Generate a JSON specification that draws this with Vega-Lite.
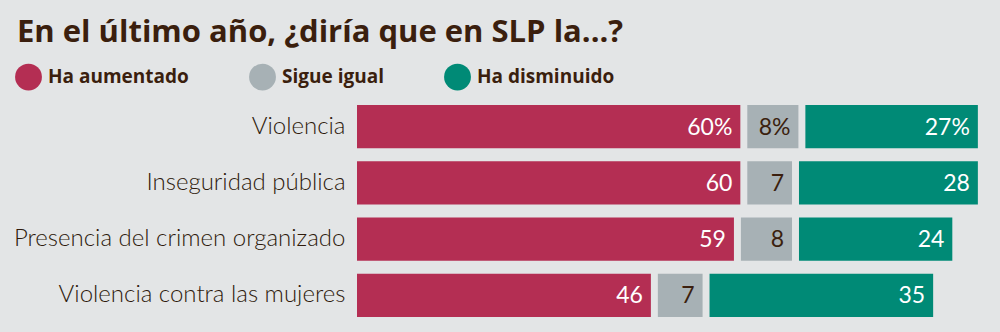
{
  "$schema": "https://vega.github.io/schema/vega-lite/v6.json",
  "width": 621,
  "height": 225,
  "autosize": {"type": "none"},
  "padding": {"left": 357, "top": 98.5, "right": 22, "bottom": 8.5},
  "background": "#e3e5e6",
  "title": {
    "text": "En el último año, ¿diría que en SLP la...?",
    "anchor": "start",
    "frame": "group",
    "dx": -340,
    "offset": 15,
    "font": "Open Sans",
    "fontSize": 31,
    "fontWeight": "bold",
    "color": "#3b1f0e"
  },
  "config": {
    "view": {"stroke": null},
    "font": "Lato"
  },
  "data": {
    "values": [
      {"cat": "Violencia", "resp": "Ha aumentado", "value": 60, "label": "60%"},
      {"cat": "Violencia", "resp": "Sigue igual", "value": 8, "label": "8%"},
      {"cat": "Violencia", "resp": "Ha disminuido", "value": 27, "label": "27%"},
      {"cat": "Inseguridad pública", "resp": "Ha aumentado", "value": 60, "label": "60"},
      {"cat": "Inseguridad pública", "resp": "Sigue igual", "value": 7, "label": "7"},
      {"cat": "Inseguridad pública", "resp": "Ha disminuido", "value": 28, "label": "28"},
      {"cat": "Presencia del crimen organizado", "resp": "Ha aumentado", "value": 59, "label": "59"},
      {"cat": "Presencia del crimen organizado", "resp": "Sigue igual", "value": 8, "label": "8"},
      {"cat": "Presencia del crimen organizado", "resp": "Ha disminuido", "value": 24, "label": "24"},
      {"cat": "Violencia contra las mujeres", "resp": "Ha aumentado", "value": 46, "label": "46"},
      {"cat": "Violencia contra las mujeres", "resp": "Sigue igual", "value": 7, "label": "7"},
      {"cat": "Violencia contra las mujeres", "resp": "Ha disminuido", "value": 35, "label": "35"}
    ]
  },
  "transform": [
    {"calculate": "indexof(['Ha aumentado','Sigue igual','Ha disminuido'], datum.resp)", "as": "ord"},
    {"stack": "value", "groupby": ["cat"], "sort": [{"field": "ord", "order": "ascending"}], "as": ["s0", "s1"]},
    {"calculate": "datum.s0 + datum.ord * 1.09", "as": "x0"},
    {"calculate": "datum.s1 + datum.ord * 1.09", "as": "x1"}
  ],
  "encoding": {
    "y": {
      "field": "cat",
      "type": "nominal",
      "sort": ["Violencia", "Inseguridad pública", "Presencia del crimen organizado", "Violencia contra las mujeres"],
      "scale": {"paddingInner": 0.23, "paddingOuter": 0.115},
      "axis": {
        "title": null,
        "ticks": false,
        "domain": false,
        "labelFontSize": 24,
        "labelFont": "Lato",
        "labelFontWeight": 300,
        "labelColor": "#2e1a0c",
        "labelPadding": 12,
        "labelLimit": 400
      }
    }
  },
  "layer": [
    {
      "mark": {"type": "bar"},
      "encoding": {
        "x": {"field": "x0", "type": "quantitative", "scale": {"domain": [0, 97.2], "nice": false, "zero": true}, "axis": null},
        "x2": {"field": "x1"},
        "color": {
          "field": "resp",
          "type": "nominal",
          "scale": {"domain": ["Ha aumentado", "Sigue igual", "Ha disminuido"], "range": ["#b42e53", "#a7b1b5", "#008a76"]},
          "legend": {
            "title": null,
            "orient": "none",
            "legendX": -342,
            "legendY": -35,
            "direction": "horizontal",
            "symbolType": "circle",
            "symbolSize": 720,
            "symbolStrokeWidth": 0,
            "labelFont": "Open Sans",
            "labelFontSize": 19,
            "labelFontWeight": "bold",
            "labelColor": "#3b1f0e",
            "labelOffset": 6,
            "columnPadding": 60,
            "labelLimit": 300
          }
        }
      }
    },
    {
      "mark": {"type": "text", "align": "right", "baseline": "middle", "dx": -8, "dy": 1, "fontSize": 23, "font": "Lato"},
      "encoding": {
        "x": {"field": "x1", "type": "quantitative", "scale": {"domain": [0, 97.2], "nice": false, "zero": true}},
        "text": {"field": "label"},
        "color": {"condition": {"test": "datum.resp === 'Sigue igual'", "value": "#3b1f0e"}, "value": "white"}
      }
    }
  ]
}
